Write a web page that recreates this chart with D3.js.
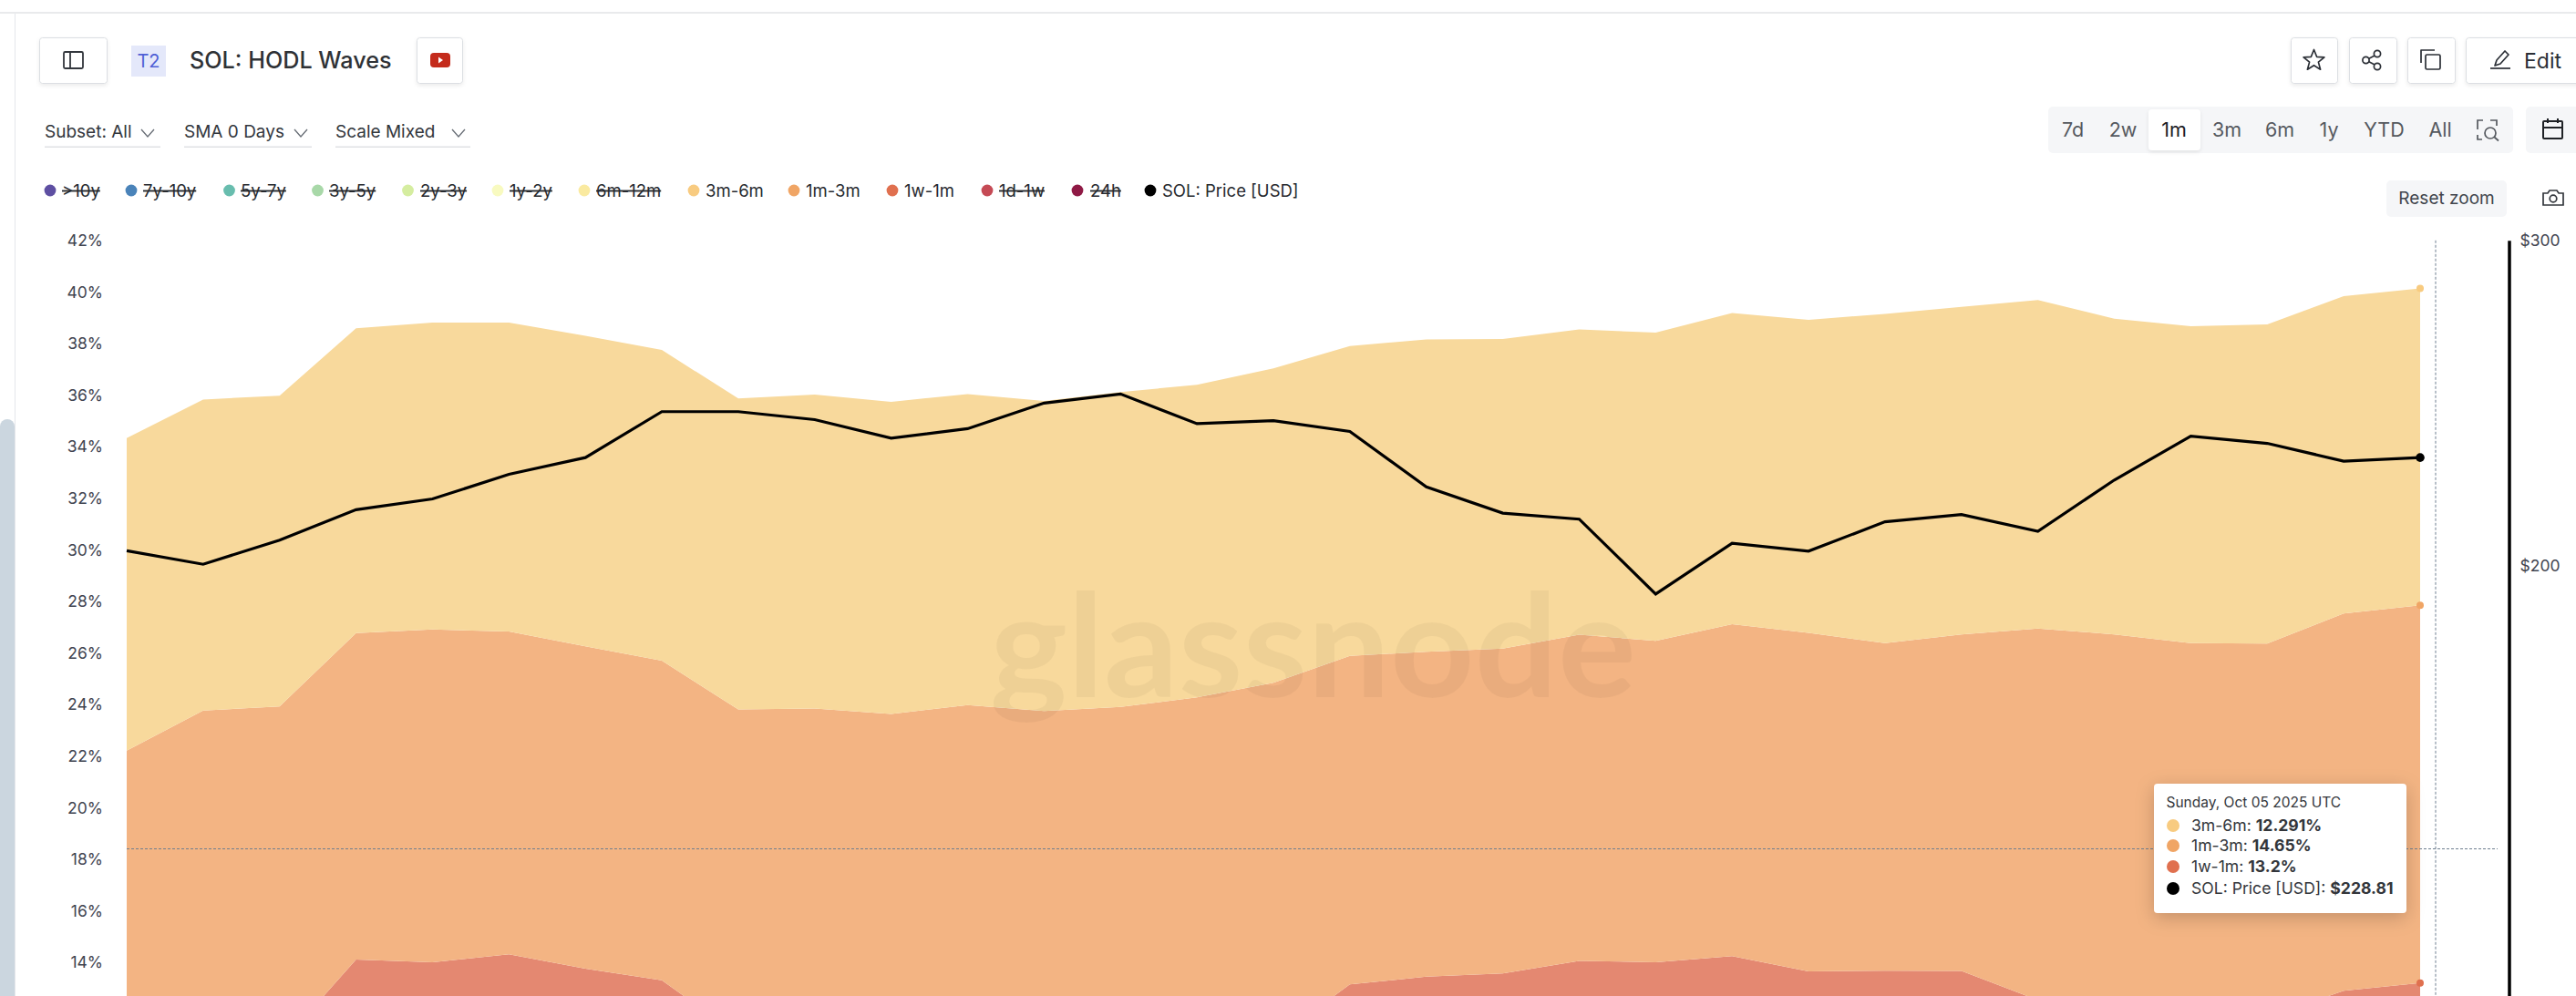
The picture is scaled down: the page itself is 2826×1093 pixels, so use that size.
<!DOCTYPE html>
<html lang="en">
<head>
<meta charset="utf-8">
<title>SOL: HODL Waves</title>
<script src="https://cdn.jsdelivr.net/npm/d3@7"></script>
<style>
html,body{margin:0;padding:0;background:#fff;overflow:hidden;width:2826px;height:1093px}
svg{display:block;font-family:Inter,"Noto Sans",sans-serif}
text{fill:#2b2f36}
</style>
</head>
<body>
<svg id="c" width="2826" height="1093" viewBox="0 0 2826 1093"></svg>
<script>
// ---------- DATA ----------
const startDate = "2025-09-05";
const s1w1m = [10.25,10.6,10.78,14.11,14.01,14.32,13.76,13.31,11.19,11.3,11.07,11.19,11.25,11.19,11.07,10.98,13.15,13.45,13.57,14.06,14.01,14.25,13.65,13.68,13.67,12.54,12.25,12.01,11.89,12.9,13.2];
const s1m3m = [11.96,13.17,13.15,12.66,12.9,12.51,12.5,12.39,12.62,12.55,12.57,12.79,12.5,12.72,13.21,13.87,12.74,12.6,12.6,12.65,12.46,12.87,13.13,12.7,13.05,14.41,14.47,14.37,14.48,14.63,14.65];
const s3m6m = [12.12,12.06,12.05,11.82,11.9,11.98,12.04,12.05,12.06,12.17,12.1,12.06,12.02,12.21,12.12,12.19,12.01,12.11,12.01,11.84,11.95,12.06,12.14,12.77,12.7,12.74,12.24,12.29,12.37,12.31,12.291];
const solPrice = [203.7,200.3,206.4,214.4,217.3,224.1,228.8,242.3,242.3,239.9,234.4,237.2,244.9,247.7,238.7,239.6,236.4,220.6,213.5,211.9,193.0,205.6,203.6,211.2,213.1,208.7,222.5,235.0,232.9,227.8,228.81];
const pctTicks = [42,40,38,36,34,32,30,28,26,24,22,20,18,16,14];
const priceTicks = [300,200];
const legendLabels = [">10y","7y-10y","5y-7y","3y-5y","2y-3y","1y-2y","6m-12m","3m-6m","1m-3m","1w-1m","1d-1w","24h","SOL: Price [USD]"];
const legendColors = ["#5e4fa2","#4a83b9","#68bdae","#a8d8a8","#d5eda0","#f8fac0","#faeaa0","#f8cb80","#f0a565","#e0704f","#c54a55","#8f1a45","#000000"];
const legendOff = [true,true,true,true,true,true,true,false,false,false,true,true,false];
const rangeLabels = ["7d","2w","1m","3m","6m","1y","YTD","All"];
const dropdowns = ["Subset: All","SMA 0 Days","Scale Mixed"];
const tooltipRows = [["3m-6m: ","12.291%","#f8cb80"],["1m-3m: ","14.65%","#f0a565"],["1w-1m: ","13.2%","#e0704f"],["SOL: Price [USD]: ","$228.81","#000"]];
const seriesKeys = ["w1m","m3m","m6m"];
const areaFills = {w1m:"#e48871",m3m:"#f3b483",m6m:"#f8d99c"};
const dotFills = {w1m:"#e0704f",m3m:"#f0a565",m6m:"#f8cb80"};

// ---------- SCALES ----------
const day0 = new Date(startDate+"T00:00:00Z");
const rows = solPrice.map((p,i)=>({date:d3.utcDay.offset(day0,i),w1m:s1w1m[i],m3m:s1m3m[i],m6m:s3m6m[i],price:p}));
const x = d3.scaleUtc().domain(d3.extent(rows,d=>d.date)).range([139,2655]);
const y = d3.scaleLinear().domain([12,42]).range([1112.8,263.8]);
const yP = d3.scaleLog().domain([300,114.3]).range([263.8,1112.8]);
const svg = d3.select("#c");

// ---------- PAGE CHROME ----------
const rect=(g,x0,y0,w,h,fill,stroke,r)=>g.append("rect").attr("x",x0).attr("y",y0).attr("width",w).attr("height",h).attr("fill",fill).attr("stroke",stroke||"none").attr("rx",r||0);
const defs = svg.append("defs");
const sh = defs.append("filter").attr("id","tipShadow").attr("x","-20%").attr("y","-30%").attr("width","140%").attr("height","170%");
sh.append("feDropShadow").attr("dx",0).attr("dy",5).attr("stdDeviation",10).attr("flood-color","#000").attr("flood-opacity",0.2);
const sh2 = defs.append("filter").attr("id","btnShadow").attr("x","-20%").attr("y","-20%").attr("width","140%").attr("height","150%");
sh2.append("feDropShadow").attr("dx",0).attr("dy",2).attr("stdDeviation",2).attr("flood-color","#000").attr("flood-opacity",0.08);

const chrome = svg.append("g");
rect(chrome,0,13,2826,2,"#e9eaec");
rect(chrome,16,15,1,1078,"#e5e7eb");
rect(chrome,0,460,16,650,"#cbd6df",null,8);

function button(x0,w){ return rect(chrome,x0+.5,41.5,w,50,"#fff","#dcdfe3",3).attr("filter","url(#btnShadow)"); }
button(43,74); button(457,50); button(2513,51); button(2577,52); button(2641,52); button(2705,140);

// sidebar icon
const ic = chrome.append("g").attr("fill","none").attr("stroke","#33373d").attr("stroke-width",1.8);
ic.append("rect").attr("x",70).attr("y",57).attr("width",21).attr("height",18).attr("rx",1.5);
ic.append("line").attr("x1",77).attr("x2",77).attr("y1",57).attr("y2",75);

// T2 badge & title
rect(chrome,144,50,38,34,"#e4e8fa");
chrome.append("text").attr("x",163).attr("y",74).attr("text-anchor","middle").attr("font-size",20).style("fill","#4f5fd5").text("T2");
chrome.append("text").attr("x",208).attr("y",75).attr("font-size",25.2).attr("font-weight",500).style("fill","#2f3236").text("SOL: HODL Waves");

// youtube icon
rect(chrome,472,58,22,16,"#c42b1c",null,4);
chrome.append("path").attr("d","M481 62.5l5 3.5-5 3.5z").attr("fill","#fff");

// star / share / copy / edit icons
const ic2 = chrome.append("g").attr("fill","none").attr("stroke","#2b2f36").attr("stroke-width",1.7).attr("stroke-linejoin","round");
ic2.append("path").attr("d",d3.range(10).map(i=>{const r=i%2?5.2:12,a=-Math.PI/2+i*Math.PI/5;return (i?"L":"M")+(2538.5+r*Math.cos(a)).toFixed(1)+" "+(66.5+r*Math.sin(a)).toFixed(1);}).join("")+"Z");
ic2.append("path").attr("d","M2608 59.5L2595.5 66L2608 72.5");
[[2608,59,3.6],[2595.5,66,3.6],[2608,73,3.6]].forEach(c=>ic2.append("circle").attr("cx",c[0]).attr("cy",c[1]).attr("r",c[2]).attr("fill","#fff"));
ic2.append("rect").attr("x",2661).attr("y",60).attr("width",16).attr("height",16).attr("rx",1.5);
ic2.append("path").attr("d","M2656 69V55h15");
ic2.append("path").attr("d","M2737 72l2-6 9-10 4 4-9 10z");
ic2.append("line").attr("x1",2732).attr("x2",2754).attr("y1",75).attr("y2",75);
chrome.append("text").attr("x",2769).attr("y",75).attr("font-size",23).attr("font-weight",400).text("Edit");

// dropdowns
const ddX=[49,202,368], ddEnd=[176,342,516], ddChev=[162,330,503];
dropdowns.forEach((t,i)=>{
  chrome.append("text").attr("x",ddX[i]).attr("y",151).attr("font-size",19).style("fill","#33373d").text(t);
  rect(chrome,ddX[i],160.5,ddEnd[i]-ddX[i],1.5,"#dfe1e4");
  chrome.append("path").attr("d",`M${ddChev[i]-7} 142l7 8 7-8`).attr("fill","none").attr("stroke","#666c74").attr("stroke-width",1.3);
});

// range bar
rect(chrome,2247,117,510,51,"#f5f6f8",null,5);
rect(chrome,2357,120,57,45,"#fff",null,4).attr("filter","url(#btnShadow)");
const rangeX=[2274,2329,2385,2443,2501,2555,2615.5,2677];
rangeLabels.forEach((t,i)=>{
  chrome.append("text").attr("x",rangeX[i]).attr("y",150).attr("text-anchor","middle").attr("font-size",21.5).style("fill",t==="1m"?"#1d2025":"#55595f").text(t);
});
const ic3 = chrome.append("g").attr("fill","none").attr("stroke","#55595f").attr("stroke-width",1.7);
ic3.append("path").attr("d","M2718 142v-10h6M2732 132h7v6M2718 148v5h5");
ic3.append("circle").attr("cx",2732).attr("cy",146).attr("r",6);
ic3.append("line").attr("x1",2736.5).attr("y1",150.5).attr("x2",2741).attr("y2",154.5);

// calendar
rect(chrome,2771,117,70,51,"#f5f6f8",null,5);
const cal = chrome.append("g").attr("fill","none").attr("stroke","#1f2226").attr("stroke-width",2);
cal.append("rect").attr("x",2790).attr("y",133).attr("width",21).attr("height",19).attr("rx",1);
cal.append("path").attr("d","M2790 140h21M2795 130v5M2806 130v5");

// reset zoom & camera
rect(chrome,2618,198,132,40,"#f5f6f8",null,5);
chrome.append("text").attr("x",2684).attr("y",224).attr("text-anchor","middle").attr("font-size",19).style("fill","#41454c").text("Reset zoom");
const cam = chrome.append("g").attr("fill","none").attr("stroke","#33373d").attr("stroke-width",1.7);
cam.append("path").attr("d","M2790 212h5l2-3h8l2 3h5v13h-22z");
cam.append("circle").attr("cx",2801).attr("cy",218).attr("r",3.8);

// legend
const legDot=[55,144,251.5,348.5,447.5,546,641,761,871,979,1083,1182,1262];
const legTxt=[68,157,264,361,461,559,654,774,884,992,1096,1196,1275];
legendLabels.forEach((t,i)=>{
  chrome.append("circle").attr("cx",legDot[i]).attr("cy",209).attr("r",6.4).attr("fill",legendColors[i]);
  chrome.append("text").attr("x",legTxt[i]).attr("y",215.5).attr("font-size",18.5).style("fill","#26292e")
    .style("text-decoration",legendOff[i]?"line-through":"none").text(t);
});

// ---------- CHART ----------
const plot = svg.append("g");
const stack = d3.stack().keys(seriesKeys);
const layers = stack(rows);
const area = d3.area().x(d=>x(d.data.date)).y0(d=>y(d[0])).y1(d=>y(d[1]));
plot.selectAll("path.a").data(layers).join("path").attr("class","a")
  .attr("d",area).attr("fill",d=>areaFills[d.key]);

// watermark
plot.append("text").attr("x",1086).attr("y",765).attr("font-family","Lato").attr("font-weight",700)
  .attr("font-size",158).attr("textLength",709).attr("lengthAdjust","spacingAndGlyphs")
  .style("fill","#000").attr("opacity",0.035).text("glassnode");

// crosshairs
const hair = svg.append("g").attr("stroke","#6f7f90").attr("stroke-width",1).attr("stroke-dasharray","3 2").attr("fill","none");
hair.append("line").attr("x1",139).attr("x2",2740).attr("y1",931.5).attr("y2",931.5);
hair.append("line").attr("x1",2672).attr("x2",2672).attr("y1",263.8).attr("y2",1093);

// end dots on the areas
plot.selectAll("circle.e").data(layers).join("circle").attr("class","e")
  .attr("cx",d=>x(d[d.length-1].data.date)).attr("cy",d=>y(d[d.length-1][1])).attr("r",4)
  .attr("fill",d=>dotFills[d.key]);

// price line
const line = d3.line().x(d=>x(d.date)).y(d=>yP(d.price));
plot.append("path").datum(rows).attr("d",line).attr("fill","none").attr("stroke","#000").attr("stroke-width",3.2).attr("stroke-linejoin","miter");
const lastR = rows[rows.length-1];
plot.append("circle").attr("cx",x(lastR.date)).attr("cy",yP(lastR.price)).attr("r",4.8).attr("fill","#000");

// axes
const axL = svg.append("g").attr("transform","translate(113,0)")
  .call(d3.axisLeft(y).tickValues(pctTicks).tickSize(0).tickPadding(0).tickFormat(d=>d+"%"));
axL.select(".domain").remove();
axL.selectAll("text").attr("font-size",17.5).attr("font-family","Inter").style("fill","#3f4450");

const axR = svg.append("g").attr("transform","translate(2752.5,0)")
  .call(d3.axisRight(yP).tickValues(priceTicks).tickSize(0).tickPadding(12).tickFormat(d=>"$"+d));
axR.select(".domain").attr("stroke","#000").attr("stroke-width",3.5);
axR.selectAll("text").attr("font-size",17.5).attr("font-family","Inter").style("fill","#3f4450");

// tooltip
const tip = svg.append("g");
rect(tip,2363,860,277,142,"#fff",null,4).attr("filter","url(#tipShadow)");
tip.append("text").attr("x",2376.5).attr("y",886).attr("font-size",15.5).style("fill","#33363b").text("Sunday, Oct 05 2025 UTC");
const rowY=[906,928,951,975];
tooltipRows.forEach((r,i)=>{
  tip.append("circle").attr("cx",2384).attr("cy",rowY[i]).attr("r",7).attr("fill",r[2]);
  const t = tip.append("text").attr("x",2404).attr("y",rowY[i]+6).attr("font-size",17.6).style("fill","#33363b");
  t.append("tspan").text(r[0]);
  t.append("tspan").attr("font-weight",700).text(r[1]);
});
</script>
</body>
</html>
